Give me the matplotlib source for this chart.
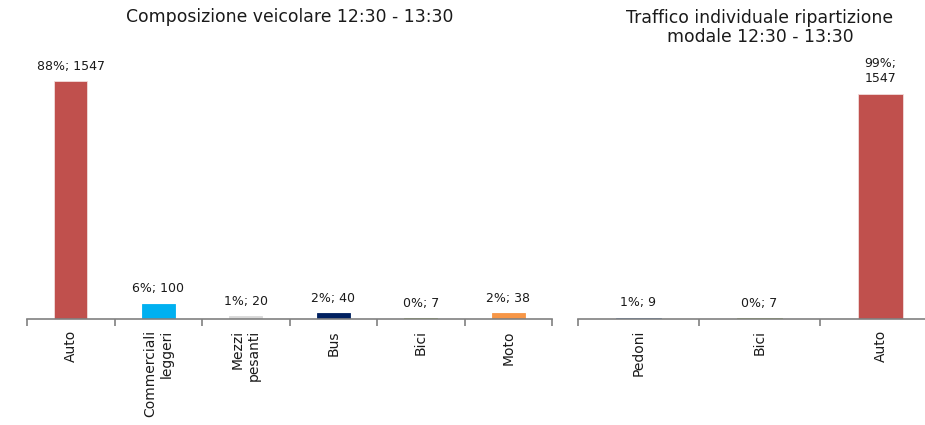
import matplotlib
matplotlib.use("Agg")
import matplotlib.pyplot as plt
import numpy as np

# composizione veicolare
cat_left = ["Auto", "Commerciali\nleggeri", "Mezzi\npesanti", "Bus", "Bici", "Moto"]
val_left = [1547, 100, 20, 40, 7, 38]
pct_left = ["88%", "6%", "1%", "2%", "0%", "2%"]
col_left = ["#C0504D", "#00B0F0", "#D9D9D9", "#002060", "#9BBB59", "#F79646"]

# traffico individuale
cat_right = ["Pedoni", "Bici", "Auto"]
val_right = [9, 7, 1547]
pct_right = ["1%", "0%", "99%"]
col_right = ["#4F81BD", "#9BBB59", "#C0504D"]

W, H = 925, 425
fig = plt.figure(figsize=(W / 100, H / 100), dpi=100)
plt.rcParams['font.family'] = ['DejaVu Sans']
txt_color = "#1a1a1a"


def setup(ax, n, cats):
    ax.set_xlim(-0.5, n - 0.5)
    ax.set_ylim(0, 1800)
    for s in ["top", "right", "left"]:
        ax.spines[s].set_visible(False)
    ax.spines["bottom"].set_color("#808080")
    ax.spines["bottom"].set_linewidth(1.2)
    ax.set_yticks([])
    # boundary ticks, labels at centres
    ax.set_xticks(np.arange(n + 1) - 0.5)
    ax.set_xticklabels([])
    ax.tick_params(axis="x", which="major", direction="out", length=5, color="#808080", width=1.2)
    ax.set_xticks(np.arange(n), minor=True)
    ax.set_xticklabels(cats, minor=True, rotation=90, fontsize=10, color=txt_color,
                       multialignment="right")
    ax.tick_params(axis="x", which="minor", length=0, pad=8)
    ax.patch.set_alpha(0)


def edge(c):
    # light border only on the red bars, like the excel original
    return "#F2DCDB" if c == "#C0504D" else c


# left chart
ax1 = fig.add_axes([27 / W, (H - 319) / H, 525 / W, 277 / H])
setup(ax1, len(cat_left), cat_left)
ax1.bar(np.arange(len(val_left)), val_left, width=0.38, color=col_left,
        edgecolor=[edge(c) for c in col_left], linewidth=0.6)
for i, (v, p) in enumerate(zip(val_left, pct_left)):
    ax1.annotate(f"{p}; {v}", (i, v), xytext=(0, 6), textcoords="offset points",
                 ha="center", va="bottom", fontsize=9, color=txt_color)

# right chart
ax2 = fig.add_axes([578 / W, (H - 319) / H, 363 / W, 262 / H])
setup(ax2, len(cat_right), cat_right)
ax2.bar(np.arange(len(val_right)), val_right, width=0.38, color=col_right,
        edgecolor=[edge(c) for c in col_right], linewidth=0.6)
for i, (v, p) in enumerate(zip(val_right, pct_right)):
    sep = ";\n" if v > 1000 else "; "
    ax2.annotate(f"{p}{sep}{v}", (i, v), xytext=(0, 6), textcoords="offset points",
                 ha="center", va="bottom", fontsize=9, color=txt_color, linespacing=1.25)

fig.text(289.5 / W, 1 - 17 / H, "Composizione veicolare 12:30 - 13:30",
         ha="center", va="center", fontsize=12.4, color=txt_color)
fig.text(760 / W, 1 - 27.5 / H, "Traffico individuale ripartizione\nmodale 12:30 - 13:30",
         ha="center", va="center", fontsize=12.4, color=txt_color, linespacing=1.05)

fig.savefig("out.png", dpi=100)
